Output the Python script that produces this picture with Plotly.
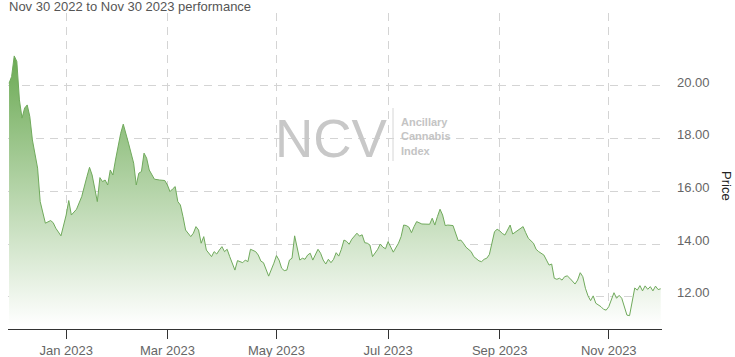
import plotly.graph_objects as go

# ---- data ----
dates = [
    "2022-11-30", "2022-12-01", "2022-12-02", "2022-12-05", "2022-12-06", "2022-12-07", "2022-12-08", "2022-12-09",
    "2022-12-12", "2022-12-13", "2022-12-15", "2022-12-16", "2022-12-20", "2022-12-22", "2022-12-23", "2022-12-27",
    "2022-12-29", "2022-12-30", "2023-01-03", "2023-01-04", "2023-01-05", "2023-01-09", "2023-01-11", "2023-01-13",
    "2023-01-17", "2023-01-18", "2023-01-20", "2023-01-23", "2023-01-24", "2023-01-25", "2023-01-26", "2023-01-27",
    "2023-01-30", "2023-01-31", "2023-02-01", "2023-02-02", "2023-02-03", "2023-02-06", "2023-02-07", "2023-02-09",
    "2023-02-10", "2023-02-13", "2023-02-14", "2023-02-15", "2023-02-16", "2023-02-17", "2023-02-22", "2023-02-24",
    "2023-02-28", "2023-03-01", "2023-03-02", "2023-03-03", "2023-03-06", "2023-03-07", "2023-03-08", "2023-03-09",
    "2023-03-10", "2023-03-14", "2023-03-15", "2023-03-16", "2023-03-17", "2023-03-20", "2023-03-21", "2023-03-22",
    "2023-03-24", "2023-03-27", "2023-03-28", "2023-03-29", "2023-03-30", "2023-03-31", "2023-04-03", "2023-04-04",
    "2023-04-06", "2023-04-10", "2023-04-11", "2023-04-12", "2023-04-13", "2023-04-14", "2023-04-17", "2023-04-19",
    "2023-04-20", "2023-04-21", "2023-04-24", "2023-04-25", "2023-04-26", "2023-04-28", "2023-05-01", "2023-05-02",
    "2023-05-03", "2023-05-04", "2023-05-05", "2023-05-08", "2023-05-09", "2023-05-10", "2023-05-11", "2023-05-12",
    "2023-05-15", "2023-05-16", "2023-05-17", "2023-05-18", "2023-05-19", "2023-05-22", "2023-05-23", "2023-05-24",
    "2023-05-25", "2023-05-26", "2023-05-30", "2023-05-31", "2023-06-01", "2023-06-02", "2023-06-05", "2023-06-06",
    "2023-06-07", "2023-06-08", "2023-06-09", "2023-06-12", "2023-06-14", "2023-06-15", "2023-06-16", "2023-06-20",
    "2023-06-21", "2023-06-22", "2023-06-23", "2023-06-27", "2023-06-28", "2023-06-29", "2023-06-30", "2023-07-03",
    "2023-07-05", "2023-07-06", "2023-07-10", "2023-07-11", "2023-07-12", "2023-07-13", "2023-07-14", "2023-07-17",
    "2023-07-18", "2023-07-19", "2023-07-21", "2023-07-24", "2023-07-26", "2023-07-27", "2023-07-28", "2023-07-31",
    "2023-08-01", "2023-08-02", "2023-08-03", "2023-08-04", "2023-08-07", "2023-08-08", "2023-08-10", "2023-08-11",
    "2023-08-14", "2023-08-15", "2023-08-17", "2023-08-18", "2023-08-22", "2023-08-23", "2023-08-24", "2023-08-25",
    "2023-08-28", "2023-08-29", "2023-08-30", "2023-08-31", "2023-09-01", "2023-09-05", "2023-09-06", "2023-09-07",
    "2023-09-08", "2023-09-11", "2023-09-13", "2023-09-14", "2023-09-15", "2023-09-18", "2023-09-19", "2023-09-21",
    "2023-09-22", "2023-09-25", "2023-09-27", "2023-09-28", "2023-09-29", "2023-10-02", "2023-10-03", "2023-10-04",
    "2023-10-05", "2023-10-06", "2023-10-09", "2023-10-10", "2023-10-11", "2023-10-13", "2023-10-16", "2023-10-17",
    "2023-10-18", "2023-10-19", "2023-10-20", "2023-10-23", "2023-10-24", "2023-10-25", "2023-10-27", "2023-10-30",
    "2023-10-31", "2023-11-01", "2023-11-02", "2023-11-03", "2023-11-06", "2023-11-07", "2023-11-08", "2023-11-09",
    "2023-11-10", "2023-11-13", "2023-11-14", "2023-11-15", "2023-11-16", "2023-11-17", "2023-11-20", "2023-11-21",
    "2023-11-22", "2023-11-24", "2023-11-27", "2023-11-28", "2023-11-29", "2023-11-30",
]

prices = [
    20.10, 20.36, 21.14, 20.93, 19.47, 18.78, 19.16, 19.28,
    18.84, 17.95, 16.88, 15.61, 14.79, 14.89, 14.81, 14.60,
    14.31, 14.66, 15.10, 15.65, 15.10, 15.32, 15.80, 16.56,
    16.91, 16.62, 15.61, 16.52, 16.37, 16.43, 16.24, 16.81,
    16.62, 17.19, 17.70, 18.20, 18.55, 18.21, 17.83, 17.07,
    16.24, 16.69, 16.75, 17.45, 17.26, 16.81, 16.46, 16.43,
    16.41, 16.24, 15.99, 16.09, 16.18, 15.61, 15.48, 15.04,
    14.53, 14.28, 14.41, 14.66, 14.53, 14.03, 14.28, 13.77,
    13.52, 13.71, 13.62, 13.77, 13.90, 13.71, 13.80, 13.52,
    13.01, 13.37, 13.33, 13.29, 13.39, 13.33, 13.80, 13.71,
    13.58, 13.35, 13.29, 13.01, 12.78, 13.27, 13.56, 13.39,
    13.08, 12.99, 13.01, 13.39, 13.46, 14.31, 13.90, 13.39,
    13.46, 13.42, 13.58, 13.65, 13.39, 13.58, 13.80, 13.65,
    13.39, 13.24, 13.42, 13.29, 13.42, 13.67, 13.54, 13.80,
    14.15, 14.10, 13.99, 14.18, 14.41, 14.30, 14.35, 14.05,
    14.03, 13.96, 13.52, 13.80, 14.00, 13.88, 13.82, 14.09,
    13.90, 13.69, 14.03, 14.28, 14.72, 14.70, 14.64, 14.43,
    14.66, 14.85, 14.76, 14.75, 14.75, 14.98, 14.72, 15.04,
    15.32, 15.10, 14.70, 14.72, 14.71, 14.70, 14.13, 14.15,
    14.03, 13.88, 13.71, 13.52, 13.36, 13.33, 13.42, 13.46,
    13.60, 14.03, 14.47, 14.56, 14.50, 14.40, 14.34, 14.53,
    14.72, 14.38, 14.53, 14.60, 14.66, 14.43, 14.22, 14.03,
    13.80, 13.71, 13.58, 13.39, 13.20, 13.24, 12.70, 12.66,
    12.70, 12.63, 12.76, 12.79, 12.70, 12.48, 12.63, 12.91,
    12.76, 12.32, 12.03, 11.85, 12.03, 11.75, 11.62, 11.52,
    11.49, 11.62, 11.92, 12.15, 11.94, 12.05, 11.94, 11.60,
    11.30, 11.28, 11.80, 12.33, 12.25, 12.42, 12.22, 12.41,
    12.28, 12.38, 12.22, 12.40, 12.27, 12.30,
]

market_holidays = ["2022-12-26", "2023-01-02", "2023-01-16", "2023-02-20", "2023-04-07",
                   "2023-05-29", "2023-06-19", "2023-07-04", "2023-09-04", "2023-11-23"]

x_tick_dates = ["2023-01-03", "2023-03-01", "2023-05-01", "2023-07-03", "2023-09-01", "2023-11-01"]
x_tick_labels = ["Jan 2023", "Mar 2023", "May 2023", "Jul 2023", "Sep 2023", "Nov 2023"]
y_ticks = [12, 14, 16, 18, 20]
y_tick_labels = ["12.00", "14.00", "16.00", "18.00", "20.00"]

title_text = "Nov 30 2022 to Nov 30 2023 performance"

FONT = "Liberation Sans, Arial, sans-serif"
W, H = 735, 357
ML, MR, MT, MB = 8, 73, 13, 28
PW, PH = W - ML - MR, H - MT - MB


def px_x(px):
    return (px - ML) / PW


def px_y(py):
    return (H - MB - py) / PH


fig = go.Figure()
fig.add_trace(go.Scatter(
    x=dates, y=prices, mode="lines",
    line=dict(color="rgb(112,170,92)", width=1),
    fill="tozeroy",
    fillgradient=dict(type="vertical", start=10.9, stop=21.2,
                      colorscale=[[0, "rgba(255,255,255,1)"], [1, "rgb(106,169,82)"]]),
    hoverinfo="x+y", showlegend=False,
))

grid = "rgb(212,212,212)"
fig.update_layout(
    width=W, height=H,
    margin=dict(l=ML, r=MR, t=MT, b=MB, pad=0, autoexpand=False),
    paper_bgcolor="white", plot_bgcolor="white",
    font=dict(family=FONT, size=13, color="#666666"),
    xaxis=dict(
        type="date", automargin=False,
        range=["2022-11-29 14:24", "2023-11-30 12:00"],
        rangebreaks=[dict(bounds=["sat", "mon"]), dict(values=market_holidays)],
        tickvals=x_tick_dates, ticktext=x_tick_labels,
        showgrid=True, gridcolor=grid, gridwidth=1, griddash="8px,6px",
        showline=True, linecolor="#333333", linewidth=1,
        ticks="outside", ticklen=9, tickcolor="#333333",
        tickfont=dict(family=FONT, size=13, color="#666666"),
        zeroline=False, fixedrange=True,
    ),
    yaxis=dict(
        side="right", automargin=False,
        range=[10.773, 22.77],
        tickvals=y_ticks, ticktext=y_tick_labels,
        showgrid=True, gridcolor=grid, gridwidth=1, griddash="8px,6px",
        showline=False, ticks="", ticklabelstandoff=14, ticklabelshift=-4,
        tickfont=dict(family=FONT, size=13, color="#666666"),
        zeroline=False, fixedrange=True,
    ),
    shapes=[dict(type="line", xref="paper", yref="paper",
                 x0=px_x(393), x1=px_x(393), y0=px_y(161), y1=px_y(108),
                 line=dict(color="rgb(214,214,214)", width=1))],
    annotations=[
        dict(text=title_text, xref="paper", yref="paper", x=px_x(7), y=px_y(6.5),
             xanchor="left", yanchor="middle", showarrow=False,
             font=dict(family=FONT, size=13, color="#555555")),
        dict(text="NCV", xref="paper", yref="paper", x=px_x(331.5), y=px_y(138),
             xanchor="center", yanchor="middle", showarrow=False,
             font=dict(family=FONT, size=53, color="rgb(200,200,200)")),
        dict(text="<b>Ancillary<br>Cannabis<br>Index</b>", xref="paper", yref="paper",
             x=px_x(399), y=px_y(136), xanchor="left", yanchor="middle", align="left",
             showarrow=False, font=dict(family=FONT, size=11, color="rgb(196,196,196)")),
        dict(text="Price", xref="paper", yref="paper", x=px_x(727), y=px_y(186),
             xanchor="center", yanchor="middle", textangle=90, showarrow=False,
             font=dict(family=FONT, size=13, color="#222222")),
    ],
)

fig.write_html("out.html")
